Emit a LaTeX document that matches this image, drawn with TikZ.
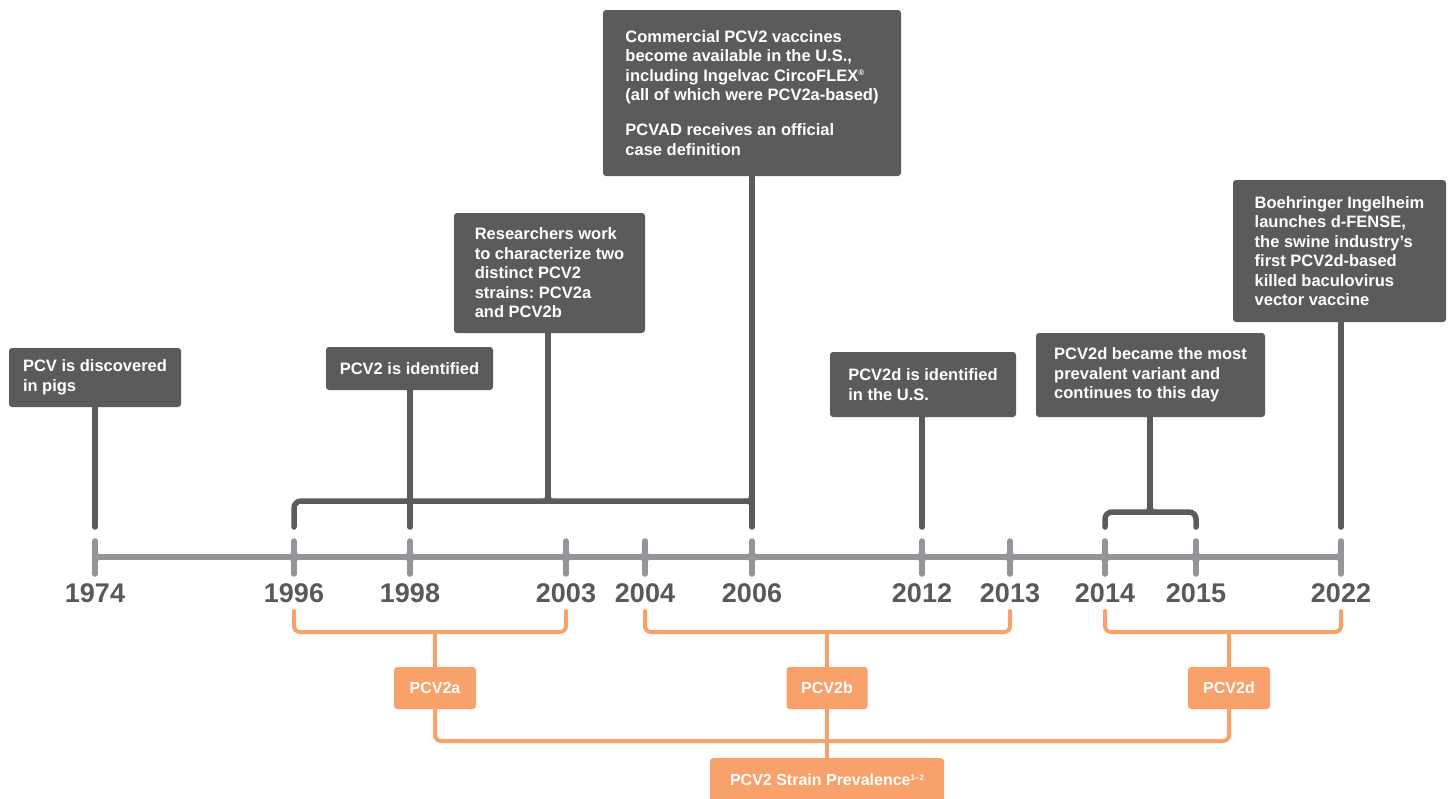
\documentclass[tikz,border=0pt]{standalone}
\usepackage{fontspec}
\setmainfont{Liberation Sans}
\usetikzlibrary{calc}
\definecolor{boxgray}{HTML}{5B5B5B}
\definecolor{axisgray}{HTML}{939598}
\definecolor{yeargray}{HTML}{58595B}
\definecolor{orng}{HTML}{F8A16A}
\newcommand{\myfillet}[6]{\fill[#5] ({#1+(#3)*(#6+5)},{#2+(#4)*#6}) .. controls ({#1+(#3)*#6},{#2+(#4)*#6}) .. ({#1+(#3)*#6},{#2+(#4)*(#6+5)}) -- ({#1+(#3)*#6},{#2+(#4)*#6}) -- cycle;}
\newcommand{\mysup}[1]{\raisebox{5.5pt}{\fontsize{8}{8}\selectfont #1}}
\frenchspacing
\begin{document}
\begin{tikzpicture}[x=1pt,y=-1pt,
  darkbox/.style={fill=boxgray, rounded corners=3pt, text=white, font=\bfseries\fontsize{16.5}{19.5}\selectfont, align=left, inner sep=0pt},
  obox/.style={fill=orng, rounded corners=3pt, text=white, font=\bfseries\fontsize{16}{18}\selectfont, inner sep=0pt, minimum height=42pt},
  dline/.style={draw=boxgray, line width=5.5pt, line cap=round},
  aline/.style={draw=axisgray, line width=5.5pt},
  tline/.style={draw=axisgray, line width=5.5pt, line cap=round},
  oline/.style={draw=orng, line width=4pt, line cap=round},
  year/.style={text=yeargray, font=\bfseries\fontsize{27}{27}\selectfont, inner sep=0pt}
]
\useasboundingbox (0,0) rectangle (1450,798);

% timeline coordinates
\foreach \n/\x in {1974/95,1996/294,1998/410,2003/566,2004/645,2006/752,2012/922,2013/1010,2014/1105,2015/1196,2022/1341}
  \coordinate (y\n) at (\x,557);

% axis
\draw[aline] (y1974) -- (y2022);
\foreach \n in {1974,1996,1998,2003,2004,2006,2012,2013,2014,2015,2022}
  \draw[tline] ($(y\n)+(0,-16)$) -- ($(y\n)+(0,17)$);
\foreach \x in {294,410,566,645,752,922,1010,1105,1196}
  \foreach \sx in {-1,1}
    \foreach \sy in {-1,1}
      {\myfillet{\x}{557}{\sx}{\sy}{axisgray}{2.75}}
\foreach \sy in {-1,1} {\myfillet{95}{557}{1}{\sy}{axisgray}{2.75}}
\foreach \sy in {-1,1} {\myfillet{1341}{557}{-1}{\sy}{axisgray}{2.75}}

% year labels
\foreach \n in {1974,1996,1998,2003,2004,2006,2012,2013,2014,2015,2022}
  \node[year] (l\n) at ($(y\n)+(0,36)$) {\n};

% event boxes
\node[darkbox, minimum width=172pt, minimum height=59pt] (b1) at (95,377.5) {PCV is discovered\\in pigs};
\node[darkbox, minimum width=167pt, minimum height=43pt] (b2) at (409.5,368.5) {PCV2 is identified};
\node[darkbox, minimum width=191pt, minimum height=120pt] (b3) at (549.5,273) {Researchers work\\to characterize two\\distinct PCV2\\strains: PCV2a\\and PCV2b};
\node[darkbox, minimum width=298pt, minimum height=166pt] (b4) at (752,93) {Commercial PCV2 vaccines\\become available in the U.S.,\\including Ingelvac CircoFLEX\mysup{®}\\(all of which were PCV2a-based)\\[15.5pt]PCVAD receives an official\\case definition};
\node[darkbox, minimum width=186pt, minimum height=65pt] (b5) at (923,384.5) {PCV2d is identified\\in the U.S.};
\node[darkbox, minimum width=229pt, minimum height=84pt] (b6) at (1150.5,375) {PCV2d became the most\\prevalent variant and\\continues to this day};
\node[darkbox, minimum width=213pt, minimum height=142pt] (b7) at (1339.5,251) {Boehringer Ingelheim\\launches d-FENSE,\\the swine industry’s\\first PCV2d-based\\killed baculovirus\\vector vaccine};

% dark connectors
\coordinate (dkA) at (548,501);
\coordinate (dkB) at (1150,512);
\draw[dline] (b1.south -| y1974) -- ($(y1974)+(0,-30)$);
\draw[dline] (b2.south -| y1998) -- ($(y1998)+(0,-30)$);
\draw[dline] (b4.south -| y2006) -- ($(y2006)+(0,-30)$);
\draw[dline] (b5.south -| y2012) -- ($(y2012)+(0,-30)$);
\draw[dline] (b7.south -| y2022) -- ($(y2022)+(0,-30)$);
\draw[dline] (b3.south -| dkA) -- (dkA);
\draw[dline, rounded corners=7pt] ($(y1996)+(0,-30)$) |- (y2006 |- dkA);
\draw[dline] (b6.south -| dkB) -- (dkB);
\draw[dline, rounded corners=7pt] ($(y2014)+(0,-30)$) |- (dkB) -| ($(y2015)+(0,-30)$);
\myfillet{752}{501}{-1}{-1}{boxgray}{2.75}
\myfillet{752}{501}{-1}{1}{boxgray}{2.75}
\myfillet{548}{501}{-1}{-1}{boxgray}{2.75}
\myfillet{548}{501}{1}{-1}{boxgray}{2.75}
\myfillet{1150}{512}{-1}{-1}{boxgray}{2.75}
\myfillet{1150}{512}{1}{-1}{boxgray}{2.75}

% strain boxes
\node[obox, minimum width=82pt] (pa) at (435,688) {PCV2a};
\node[obox, minimum width=81pt] (pb) at (827,688) {PCV2b};
\node[obox, minimum width=82pt] (pd) at (1229,688) {PCV2d};
\node[obox, minimum width=234pt, minimum height=44pt, anchor=north] (ps) at (827,758) {PCV2 Strain Prevalence\mysup{1–2}};

% orange brackets
\coordinate (oA) at (0,632);
\coordinate (oB) at (0,741);
\draw[oline, rounded corners=6pt] ($(y1996)+(0,54)$) |- ($(y2003)+(0,75)$) -- ($(y2003)+(0,54)$);
\draw[oline, rounded corners=6pt] ($(y2004)+(0,54)$) |- ($(y2013)+(0,75)$) -- ($(y2013)+(0,54)$);
\draw[oline, rounded corners=6pt] ($(y2014)+(0,54)$) |- ($(y2022)+(0,75)$) -- ($(y2022)+(0,54)$);
\draw[oline, line cap=butt] (pa.north) -- (pa.north |- oA);
\draw[oline, line cap=butt] (pb.north) -- (pb.north |- oA);
\draw[oline, line cap=butt] (pd.north) -- (pd.north |- oA);
\draw[oline, line cap=butt, rounded corners=6pt] (pa.south) |- (pd.south |- oB) -- (pd.south);
\draw[oline, line cap=butt] (pb.south) -- (ps.north);
\end{tikzpicture}
\end{document}
